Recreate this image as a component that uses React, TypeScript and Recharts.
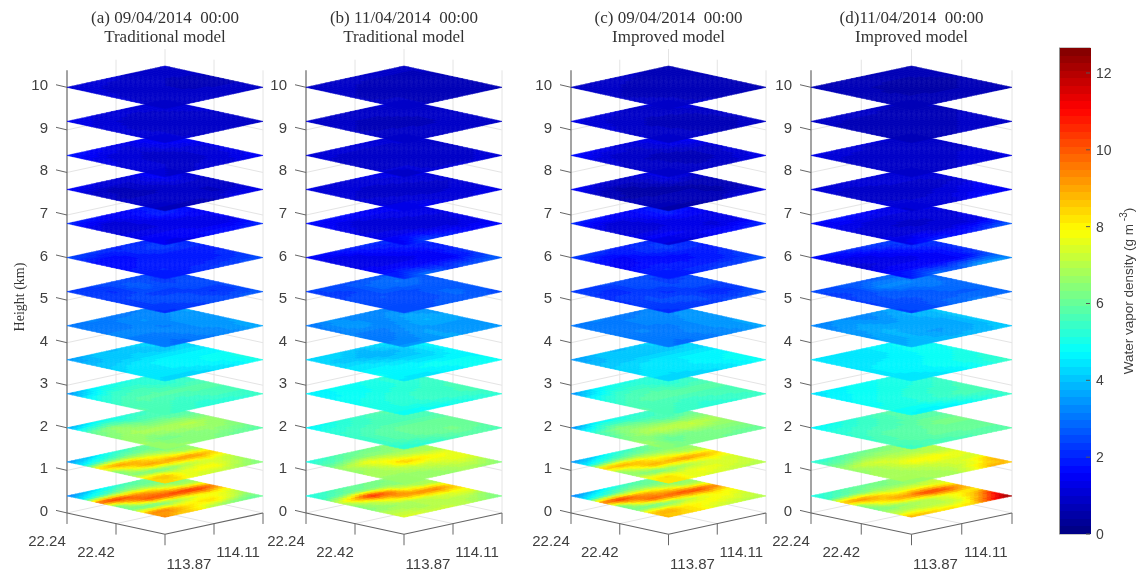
import React from 'react';
import { ScatterChart, Scatter, XAxis, YAxis, ReferenceLine, BarChart, Bar } from 'recharts';

const HEIGHT_TICKS = [0, 1, 2, 3, 4, 5, 6, 7, 8, 9, 10];
const LAYER_HEIGHTS = [10, 9.2, 8.4, 7.6, 6.8, 6, 5.2, 4.4, 3.6, 2.8, 2, 1.2, 0.4];
const COLORBAR_TICKS = [0, 2, 4, 6, 8, 10, 12];
const COLOR_MAX = 12.65;
const LAT_LABELS = ['22.24', '22.42'];
const LON_LABELS = ['113.87', '114.11'];

// each layer: rows run from the left->front edge, columns from the left->back edge, g/m3
const panelA = [
  [[1.1,1.1,1.0,1.0,1.0],[1.1,0.9,0.9,0.8,0.9],[1.0,0.9,0.8,0.7,0.7],[1.0,0.9,0.8,0.8,0.8],[0.9,0.9,0.9,0.9,0.9]],
  [[1.5,1.2,1.1,1.1,1.2],[1.2,1.0,0.9,1.0,1.2],[1.1,0.9,0.8,0.8,1.0],[1.1,1.0,0.8,0.8,0.9],[1.0,1.0,0.9,0.9,1.0]],
  [[1.9,1.6,1.3,1.5,1.9],[1.4,1.1,1.0,1.4,1.6],[1.2,1.0,0.9,1.0,1.2],[1.1,1.0,0.9,1.0,1.3],[1.0,0.9,1.1,1.2,1.6]],
  [[1.6,1.3,1.0,1.5,1.6],[1.0,0.7,1.0,1.4,1.1],[0.8,0.7,0.8,0.9,0.9],[1.0,1.0,1.0,0.7,1.0],[0.7,0.6,0.7,1.3,1.4]],
  [[2.1,1.8,1.4,1.8,2.1],[1.3,1.0,1.5,2.0,1.6],[1.1,1.1,1.2,1.3,1.4],[1.4,1.5,1.4,1.2,1.4],[1.4,1.3,1.7,1.8,2.1]],
  [[2.5,2.3,1.9,2.1,2.3],[1.8,1.6,2.1,2.3,2.1],[1.6,1.8,1.8,1.8,1.9],[1.9,2.0,1.8,1.9,2.2],[1.8,1.9,2.2,2.4,2.5]],
  [[2.3,2.4,2.5,2.4,2.5],[2.3,2.1,2.8,2.3,2.5],[2.2,2.5,2.2,2.5,2.4],[2.3,2.4,2.6,2.1,2.4],[2.1,2.2,2.4,2.6,2.7]],
  [[3.0,3.2,3.0,3.2,3.6],[3.1,3.0,3.4,3.3,3.6],[3.2,3.3,3.1,3.5,3.5],[3.1,3.0,3.3,3.4,3.6],[3.0,2.9,3.1,3.3,3.8]],
  [[3.4,4.0,3.9,4.3,4.3],[3.9,4.0,4.2,4.0,4.2],[4.2,4.5,4.6,4.7,4.6],[4.5,4.5,4.6,4.8,5.0],[4.3,4.2,4.3,4.5,5.0]],
  [[3.2,4.6,5.0,5.2,5.6],[4.8,5.4,5.6,5.2,5.4],[5.4,5.8,5.8,5.8,5.8],[5.8,5.6,5.4,5.6,5.6],[5.6,5.4,5.2,5.2,5.4]],
  [[3.4,4.6,5.0,5.4,6.0],[6.0,6.6,6.0,5.8,5.8],[6.4,6.8,6.9,7.0,6.6],[6.8,6.2,6.4,6.6,6.4],[6.6,6.6,6.4,6.0,5.8]],
  [[3.2,3.9,4.6,5.2,5.8,6.2,6.4],[4.6,5.2,5.8,6.2,6.2,6.2,6.4],[8.4,9.2,8.8,8.0,7.4,6.8,6.6],[6.2,7.6,9.0,9.0,9.2,9.2,8.6],[6.6,6.2,6.2,6.8,7.2,7.6,7.2],[8.4,8.8,7.6,7.8,8.0,7.2,6.6],[8.4,8.2,7.6,7.2,7.0,6.6,6.4]],
  [[3.0,3.8,4.5,5.2,5.8,6.0,6.0],[4.6,5.2,6.0,6.4,6.2,6.2,6.2],[10.0,10.6,9.6,9.0,8.0,7.0,6.8],[6.0,8.0,10.0,10.2,10.4,10.6,9.6],[6.2,6.0,6.2,7.0,7.6,8.0,7.6],[9.2,9.6,8.4,8.2,8.4,7.4,6.6],[9.4,8.6,8.4,7.0,6.4,6.0,5.8]],
];

const panelB = [
  [[0.9,0.9,0.9,0.9,0.8],[0.9,0.8,0.7,0.7,0.8],[0.8,0.7,0.7,0.7,0.7],[0.8,0.8,0.7,0.7,0.8],[0.9,0.8,0.7,0.7,0.8]],
  [[1.0,1.0,1.0,1.0,1.0],[0.9,0.8,0.8,0.9,0.9],[0.8,0.7,0.7,0.8,0.8],[0.9,0.9,0.8,0.8,0.9],[0.8,0.8,0.9,0.9,0.9]],
  [[1.1,1.1,1.1,1.2,1.1],[1.0,0.9,0.9,0.9,1.0],[0.9,0.8,0.8,0.9,0.9],[1.0,1.0,0.9,0.9,1.0],[0.9,1.0,1.0,1.0,1.1]],
  [[1.2,1.2,1.2,1.4,1.4],[1.1,1.0,1.0,1.1,1.2],[1.0,0.9,0.8,0.9,1.0],[1.2,1.1,1.0,1.0,1.1],[1.2,1.5,1.2,1.2,1.4]],
  [[1.7,1.7,1.6,1.6,1.5],[1.5,1.1,1.2,1.3,1.3],[1.2,1.0,1.0,1.1,1.2],[1.4,1.4,1.2,1.1,1.3],[1.3,2.4,1.9,1.6,1.7]],
  [[1.6,1.8,2.0,2.1,2.4],[1.2,1.2,1.6,1.8,2.0],[1.3,1.2,1.3,1.5,2.0],[1.7,1.7,1.5,1.5,2.2],[1.9,3.0,2.4,2.6,2.8]],
  [[2.3,2.6,2.5,2.7,2.8],[2.3,2.3,3.0,3.0,2.6],[2.4,2.6,2.5,2.6,2.6],[2.5,2.4,2.4,2.9,2.6],[2.4,2.4,2.8,2.6,2.5]],
  [[3.0,3.4,3.2,3.2,3.4],[3.1,3.6,3.2,3.6,3.4],[3.2,3.0,3.4,3.8,3.6],[3.0,3.2,3.6,3.4,3.5],[3.5,3.4,3.6,3.5,3.4]],
  [[4.2,4.3,4.0,4.4,5.0],[4.2,4.0,3.7,4.0,4.7],[4.5,4.5,4.3,4.2,4.7],[4.8,4.7,4.8,4.8,4.7],[4.5,4.4,4.6,4.8,4.9]],
  [[4.5,4.8,4.9,5.2,5.7],[4.7,4.8,5.0,5.2,5.4],[4.9,5.1,5.3,5.4,5.6],[5.0,5.2,5.4,5.5,5.6],[4.9,4.8,4.9,5.1,5.3]],
  [[4.6,5.0,5.4,5.8,6.0],[5.2,5.4,5.6,5.6,5.6],[5.4,5.8,6.0,6.0,6.0],[5.4,5.8,6.0,6.2,6.0],[5.2,5.2,5.6,5.8,5.6]],
  [[5.0,5.4,5.8,6.0,6.2,6.4,6.6],[5.6,5.8,6.2,6.4,6.4,6.6,6.6],[6.6,7.2,7.8,7.4,7.0,6.8,6.8],[6.6,6.8,7.4,8.6,8.2,7.8,7.6],[6.8,6.8,7.0,7.2,7.4,7.6,7.6],[6.6,6.6,6.6,6.8,7.0,7.2,6.8],[6.6,6.6,6.6,6.6,6.8,6.6,6.4]],
  [[5.0,5.4,5.8,6.0,6.2,6.4,6.6],[5.4,5.8,6.2,6.2,6.4,6.4,6.6],[7.0,8.8,10.8,9.6,7.6,7.0,6.8],[6.4,7.0,8.0,9.2,9.4,9.6,8.6],[6.4,6.6,6.8,7.0,7.4,7.6,7.8],[7.0,7.0,6.8,7.0,7.0,7.0,6.6],[7.4,7.4,7.2,7.2,7.0,6.6,6.2]],
];

const panelC = [
  [[1.0,0.9,0.9,0.8,0.8],[0.9,0.8,0.7,0.6,0.7],[0.8,0.7,0.6,0.6,0.6],[0.9,0.8,0.7,0.7,0.7],[0.8,0.8,0.8,0.8,0.8]],
  [[1.3,1.1,1.0,1.0,1.1],[1.1,0.9,0.8,0.9,1.1],[1.0,0.8,0.7,0.7,0.9],[1.0,0.9,0.7,0.7,0.8],[0.9,0.9,0.8,0.8,0.9]],
  [[1.8,1.4,1.1,1.3,1.7],[1.2,0.9,0.9,1.2,1.5],[1.0,0.8,0.7,0.8,1.0],[1.0,0.9,0.7,0.8,1.1],[0.8,0.8,0.9,1.0,1.4]],
  [[1.7,1.2,0.9,1.2,1.6],[0.9,0.5,0.7,1.2,1.0],[0.6,0.5,0.5,0.6,0.7],[0.8,0.8,0.8,0.5,0.7],[0.5,0.4,0.6,1.1,1.3]],
  [[2.1,1.8,1.4,1.8,2.1],[1.3,1.0,1.4,1.9,1.5],[1.1,1.0,1.2,1.3,1.3],[1.4,1.5,1.3,1.1,1.4],[1.1,1.1,1.5,1.8,2.1]],
  [[2.4,2.2,1.9,2.1,2.3],[1.7,1.5,2.0,2.3,2.0],[1.4,1.6,1.7,1.8,1.9],[1.9,2.0,1.8,1.8,2.3],[1.8,1.9,2.3,2.4,2.5]],
  [[2.3,2.4,2.4,2.4,2.5],[2.2,2.0,2.6,2.3,2.4],[2.1,2.4,2.1,2.5,2.4],[2.2,2.4,2.5,1.9,2.3],[2.1,2.2,2.3,2.5,2.7]],
  [[3.0,3.2,3.0,3.2,3.5],[3.1,3.0,3.3,3.3,3.5],[3.1,3.2,3.1,3.4,3.5],[3.1,3.0,3.2,3.4,3.6],[3.0,2.9,3.1,3.3,3.6]],
  [[3.4,4.0,3.9,4.2,4.3],[3.9,4.0,4.1,4.0,4.2],[4.2,4.4,4.5,4.6,4.5],[4.4,4.4,4.5,4.7,4.9],[4.3,4.2,4.3,4.5,4.9]],
  [[3.2,4.6,5.0,5.2,5.6],[4.8,5.4,5.6,5.2,5.4],[5.4,5.8,5.9,5.8,5.8],[5.8,5.6,5.4,5.6,5.6],[5.6,5.4,5.2,5.3,5.5]],
  [[3.2,4.6,5.0,5.4,6.2],[5.4,6.4,6.0,5.6,6.0],[6.0,6.8,7.2,7.2,6.8],[6.8,6.0,6.2,6.4,6.4],[6.4,6.2,6.2,6.0,6.0]],
  [[3.2,3.9,4.6,5.2,5.8,6.2,6.6],[4.6,5.2,5.8,6.2,6.2,6.4,6.6],[8.6,9.0,8.6,7.8,7.4,6.8,6.8],[6.4,7.4,8.8,8.8,9.2,9.0,8.4],[6.8,6.2,6.4,6.8,7.2,7.6,7.4],[8.0,8.4,7.6,7.8,7.6,7.4,7.2],[8.2,8.2,7.6,7.4,7.2,7.0,7.0]],
  [[3.0,3.8,4.6,5.2,5.8,6.0,6.2],[4.6,5.2,6.0,6.4,6.2,6.2,6.4],[9.6,10.6,9.4,8.8,8.0,7.0,6.8],[6.0,8.0,9.8,9.8,10.2,10.2,9.4],[6.2,6.0,6.2,7.0,7.6,8.0,7.8],[8.6,9.0,8.2,8.0,7.8,7.6,7.2],[8.8,8.4,8.2,7.4,7.2,7.0,7.0]],
];

const panelD = [
  [[0.7,0.7,0.7,0.7,0.7],[0.7,0.6,0.6,0.6,0.7],[0.7,0.6,0.5,0.5,0.6],[0.7,0.6,0.6,0.6,0.7],[0.7,0.7,0.7,0.7,0.7]],
  [[0.9,0.9,0.9,0.8,0.8],[0.8,0.7,0.7,0.7,0.8],[0.7,0.7,0.6,0.7,0.8],[0.8,0.7,0.7,0.8,0.9],[0.7,0.8,0.8,0.9,1.0]],
  [[1.3,1.2,1.0,1.0,0.9],[1.0,0.9,0.9,0.9,0.9],[0.8,0.8,0.8,0.8,0.9],[0.9,0.9,0.9,1.0,1.2],[0.8,0.9,1.0,1.1,1.2]],
  [[1.1,1.1,1.2,1.2,1.2],[1.0,0.9,1.0,1.0,1.1],[0.9,0.8,0.9,0.9,1.0],[1.1,1.0,1.0,1.2,1.6],[0.9,1.2,1.2,1.7,1.5]],
  [[1.6,1.8,1.6,1.4,1.4],[1.4,1.2,1.1,1.1,1.2],[1.1,1.0,0.9,1.0,1.2],[1.2,1.2,1.1,1.1,1.4],[1.3,2.0,1.7,2.2,2.8]],
  [[1.7,1.9,2.2,2.4,2.4],[1.2,1.3,1.6,2.0,2.2],[1.1,1.2,1.3,1.6,2.0],[1.6,1.6,1.6,1.5,2.4],[1.7,3.0,2.7,3.8,3.4]],
  [[2.4,2.6,2.6,2.8,3.0],[2.3,2.4,3.4,3.2,2.9],[2.3,2.6,2.6,3.0,2.9],[2.4,2.5,2.6,2.7,2.8],[2.3,2.5,3.0,3.0,2.8]],
  [[3.2,3.4,3.2,3.6,3.8],[3.3,3.6,3.4,3.8,4.0],[3.4,3.8,3.7,3.6,4.0],[3.6,3.8,3.5,3.6,4.0],[3.8,3.9,3.8,3.9,4.1]],
  [[4.4,4.5,4.5,4.7,4.9],[4.4,4.4,4.5,4.8,4.9],[4.5,4.6,4.7,4.8,5.0],[4.5,4.6,4.8,5.0,5.2],[4.4,4.4,4.6,4.9,5.5]],
  [[4.4,4.7,4.8,5.0,5.6],[4.6,4.8,5.0,5.1,5.4],[4.8,5.0,5.2,5.4,5.6],[5.0,5.0,5.3,5.6,5.6],[4.8,4.5,4.7,5.0,5.4]],
  [[4.6,5.0,5.4,5.8,6.0],[5.2,5.4,5.6,5.8,5.8],[5.4,5.8,5.8,6.2,6.2],[5.6,5.8,6.0,6.0,6.0],[5.4,5.6,5.6,5.8,5.8]],
  [[5.0,5.4,5.8,6.0,6.2,6.4,6.8],[5.8,6.0,6.4,6.6,6.6,6.8,7.0],[6.6,7.2,7.4,7.2,7.0,7.0,7.0],[6.6,6.8,7.2,7.8,8.0,7.8,7.6],[6.8,6.8,7.0,7.2,7.4,7.4,7.4],[6.8,6.8,6.8,7.0,7.2,7.8,9.0],[6.6,6.6,6.8,6.8,7.8,9.0,8.6]],
  [[5.0,5.4,5.8,6.0,6.2,6.4,6.8],[5.4,5.8,6.2,6.4,6.4,6.6,7.0],[8.8,9.4,8.6,7.6,7.6,7.4,7.4],[6.2,7.8,8.8,9.4,10.4,10.2,9.0],[6.2,6.4,6.8,7.0,7.6,8.0,8.2],[7.0,7.2,7.0,7.0,7.4,8.8,11.0],[9.0,8.8,8.4,8.2,8.6,11.0,12.6]],
];

const TITLES = [
  ['(a) 09/04/2014  00:00', 'Traditional model'],
  ['(b) 11/04/2014  00:00', 'Traditional model'],
  ['(c) 09/04/2014  00:00', 'Improved model'],
  ['(d)11/04/2014  00:00', 'Improved model'],
];
const PANEL_DATA = [panelA, panelB, panelC, panelD];

// layout
const PAGE_W = 1137;
const PAGE_H = 572;
const AXIS_W = 66;
const PANEL_LEFT = [66.5, 306, 570.5, 810.5];
const PANEL_HALF = [98, 98, 97.5, 100.5];
const Z_TOP = 12.052;
const Z_BOTTOM = -1.387;
const PX_PER_KM = PAGE_H / (Z_TOP - Z_BOTTOM);
const SLOPE = 0.5; // km of screen height across half of the floor diamond

function jet(value: number) {
  const level = Math.min(63, Math.max(0, Math.floor((value / COLOR_MAX) * 64)));
  const t = (level + 0.5) / 64;
  const ramp = (c: number) => Math.round(255 * Math.max(0, Math.min(1, 1.5 - Math.abs(4 * t - c))));
  return `rgb(${ramp(3)},${ramp(2)},${ramp(1)})`;
}

function layerCells(grid: number[][], h: number) {
  const cells: any[] = [];
  const n = grid.length - 1;
  for (let j = 0; j < n; j++) {
    for (let i = 0; i < n; i++) {
      const u = (i + 0.5) / n;
      const v = (j + 0.5) / n;
      cells.push({
        x: -1 + u + v,
        h: h + (u - v) * SLOPE,
        n,
        a: grid[j][i],
        b: grid[j][i + 1],
        c: grid[j + 1][i],
        d: grid[j + 1][i + 1],
      });
    }
  }
  return cells;
}

function makeCellShape(halfPx: number) {
  const slopePx = SLOPE * PX_PER_KM;
  return (props: any) => {
    const { cx, cy, payload } = props;
    const { a, b, c, d, n } = payload;
    const sub = n === 4 ? 5 : 4;
    const out: React.ReactNode[] = [];
    const pt = (p: number, q: number) => {
      const du = (p / sub - 0.5) / n;
      const dv = (q / sub - 0.5) / n;
      return `${(cx + (du + dv) * halfPx).toFixed(2)},${(cy - (du - dv) * slopePx).toFixed(2)}`;
    };
    for (let q = 0; q < sub; q++) {
      for (let p = 0; p < sub; p++) {
        const s = (p + 0.5) / sub;
        const t = (q + 0.5) / sub;
        const val = a * (1 - s) * (1 - t) + b * s * (1 - t) + c * (1 - s) * t + d * s * t;
        const col = jet(val);
        out.push(
          <polygon
            key={`${p}-${q}`}
            points={`${pt(p, q)} ${pt(p + 1, q)} ${pt(p + 1, q + 1)} ${pt(p, q + 1)}`}
            fill={col}
            stroke={col}
            strokeWidth={0.6}
          />,
        );
      }
    }
    return <g>{out}</g>;
  };
}

const HeightTick = (props: any) => {
  const { x, y, payload } = props;
  return (
    <g>
      <line x1={x - 11} y1={y - 2.6} x2={x} y2={y} stroke="#666" strokeWidth={1} />
      <text x={x - 19} y={y - 2.5} textAnchor="end" dominantBaseline="central" fontFamily="Liberation Sans" fontSize={15} fill="#404040">
        {payload.value}
      </text>
    </g>
  );
};

const GRID = '#e4e4e4';
const AXIS = '#666';
const seg = (x1: number, y1: number, x2: number, y2: number, stroke: string, key: string, w = 1) => (
  <ReferenceLine
    key={key}
    segment={[{ x: x1, y: y1 }, { x: x2, y: y2 }]}
    stroke={stroke}
    strokeWidth={w}
    ifOverflow="visible"
  />
);

function Panel({ index }: { index: number }) {
  const half = PANEL_HALF[index];
  const left = PANEL_LEFT[index];
  const chartLeft = left - AXIS_W;
  const centerPx = AXIS_W + half;
  const topZ = 10.4;
  const shape = React.useMemo(() => makeCellShape(half), [half]);
  const layers = PANEL_DATA[index].map((grid, k) => ({ grid, h: LAYER_HEIGHTS[k] })).reverse();
  const floorMarks = [
    { x: -1, h: 0, label: LAT_LABELS[0], dx: -20, dy: 28 },
    { x: -0.5, h: -SLOPE / 2, label: LAT_LABELS[1], dx: -20, dy: 28 },
    { x: 0, h: -SLOPE, label: LON_LABELS[0], dx: 24, dy: 29 },
    { x: 0.5, h: -SLOPE / 2, label: LON_LABELS[1], dx: 24, dy: 28 },
    { x: 1, h: 0, label: '', dx: 0, dy: 0 },
  ];
  return (
    <div style={{ position: 'absolute', left: chartLeft, top: 0 }}>
      <ScatterChart
        width={AXIS_W + 2 * half + 6}
        height={PAGE_H}
        margin={{ top: 0, right: 6, bottom: 0, left: 0 }}
      >
        <XAxis type="number" dataKey="x" domain={[-1, 1]} hide />
        <YAxis
          type="number"
          dataKey="h"
          domain={[Z_BOTTOM, Z_TOP]}
          ticks={HEIGHT_TICKS}
          interval={0}
          width={AXIS_W}
          axisLine={false}
          tickLine={false}
          tickSize={0}
          tickMargin={0}
          tick={<HeightTick />}
        />
        {HEIGHT_TICKS.flatMap((t) => [
          seg(-1, t, 0, t + SLOPE, GRID, `wl${t}`),
          seg(0, t + SLOPE, 1, t, GRID, `wr${t}`),
        ])}
        {seg(-0.5, SLOPE / 2, -0.5, topZ + SLOPE / 2, GRID, 'v1')}
        {seg(0, SLOPE, 0, topZ + SLOPE, GRID, 'v2')}
        {seg(0.5, SLOPE / 2, 0.5, topZ + SLOPE / 2, GRID, 'v3')}
        {seg(1, 0, 1, topZ, GRID, 'v4')}
        {seg(-0.5, -SLOPE / 2, 0.5, SLOPE / 2, GRID, 'f1')}
        {seg(0.5, -SLOPE / 2, -0.5, SLOPE / 2, GRID, 'f2')}
        {seg(-1, 0, -1, topZ, AXIS, 'ay', 1.2)}
        {seg(-1, 0, 0, -SLOPE, AXIS, 'ax1', 1.2)}
        {seg(0, -SLOPE, 1, 0, AXIS, 'ax2', 1.2)}
        {layers.map(({ grid, h }) => (
          <Scatter key={h} data={layerCells(grid, h)} shape={shape} isAnimationActive={false} />
        ))}
        <Scatter
          data={floorMarks}
          isAnimationActive={false}
          shape={(p: any) => (
            <g>
              <line x1={p.cx} y1={p.cy} x2={p.cx} y2={p.cy + 11} stroke={AXIS} strokeWidth={1} />
              <text
                x={p.cx + p.payload.dx}
                y={p.cy + p.payload.dy}
                textAnchor="middle"
                dominantBaseline="central"
                fontFamily="Liberation Sans"
                fontSize={15}
                fill="#404040"
              >
                {p.payload.label}
              </text>
            </g>
          )}
        />
        <text x={centerPx} y={17} textAnchor="middle" dominantBaseline="central" fontFamily="Liberation Serif" fontSize={17} fill="#333" style={{ whiteSpace: 'pre' }}>
          {TITLES[index][0]}
        </text>
        <text x={centerPx} y={36.5} textAnchor="middle" dominantBaseline="central" fontFamily="Liberation Serif" fontSize={17} fill="#333">
          {TITLES[index][1]}
        </text>
        {index === 0 ? (
          <text transform="translate(18 297) rotate(-90)" textAnchor="middle" dominantBaseline="central" fontFamily="Liberation Serif" fontSize={14} fill="#333">
            Height (km)
          </text>
        ) : null}
      </ScatterChart>
    </div>
  );
}

const LEVELS = Array.from({ length: 64 }, (_, i) => i);
const colorRow: Record<string, any> = { name: 'scale' };
LEVELS.forEach((i) => {
  colorRow[`l${i}`] = COLOR_MAX / 64;
});
const colorData = [colorRow];

const ColorTick = (props: any) => {
  const { x, y, payload } = props;
  return (
    <g>
      <line x1={x - 4} y1={y} x2={x} y2={y} stroke="#555" strokeWidth={1} />
      <text x={x + 6} y={y} dominantBaseline="central" fontFamily="Liberation Sans" fontSize={14} fill="#404040">
        {payload.value}
      </text>
    </g>
  );
};

function ColorBar() {
  return (
    <div style={{ position: 'absolute', left: 1030, top: 0 }}>
      <BarChart
        width={107}
        height={PAGE_H}
        data={colorData}
        margin={{ top: 48, right: 0, bottom: 38, left: 29.5 }}
        barCategoryGap={0}
      >
        <XAxis dataKey="name" hide />
        <YAxis
          orientation="right"
          type="number"
          domain={[0, COLOR_MAX]}
          ticks={COLORBAR_TICKS}
          interval={0}
          width={47}
          axisLine={false}
          tickLine={false}
          tickSize={0}
          tickMargin={0}
          tick={<ColorTick />}
        />
        {LEVELS.map((i) => (
          <Bar
            key={i}
            dataKey={`l${i}`}
            stackId="scale"
            fill={jet(((i + 0.5) / 64) * COLOR_MAX)}
            shapeRendering="crispEdges"
            isAnimationActive={false}
          />
        ))}
        <rect x={29.5} y={48} width={30.5} height={486} fill="none" stroke="#777" strokeWidth={0.8} />
        <text transform="translate(98 291) rotate(-90)" textAnchor="middle" dominantBaseline="central" fontFamily="Liberation Sans" fontSize={13.5} fill="#404040">
          Water vapor density (g m
          <tspan dy={-5} fontSize={10}> -3</tspan>
          <tspan dy={5}>)</tspan>
        </text>
      </BarChart>
    </div>
  );
}

export default function App() {
  return (
    <div style={{ position: 'absolute', left: 0, top: 0, width: PAGE_W, height: PAGE_H, background: '#fff', overflow: 'hidden', filter: 'blur(0.4px)' }}>
      {PANEL_LEFT.map((_, i) => (
        <Panel key={i} index={i} />
      ))}
      <ColorBar />
    </div>
  );
}
